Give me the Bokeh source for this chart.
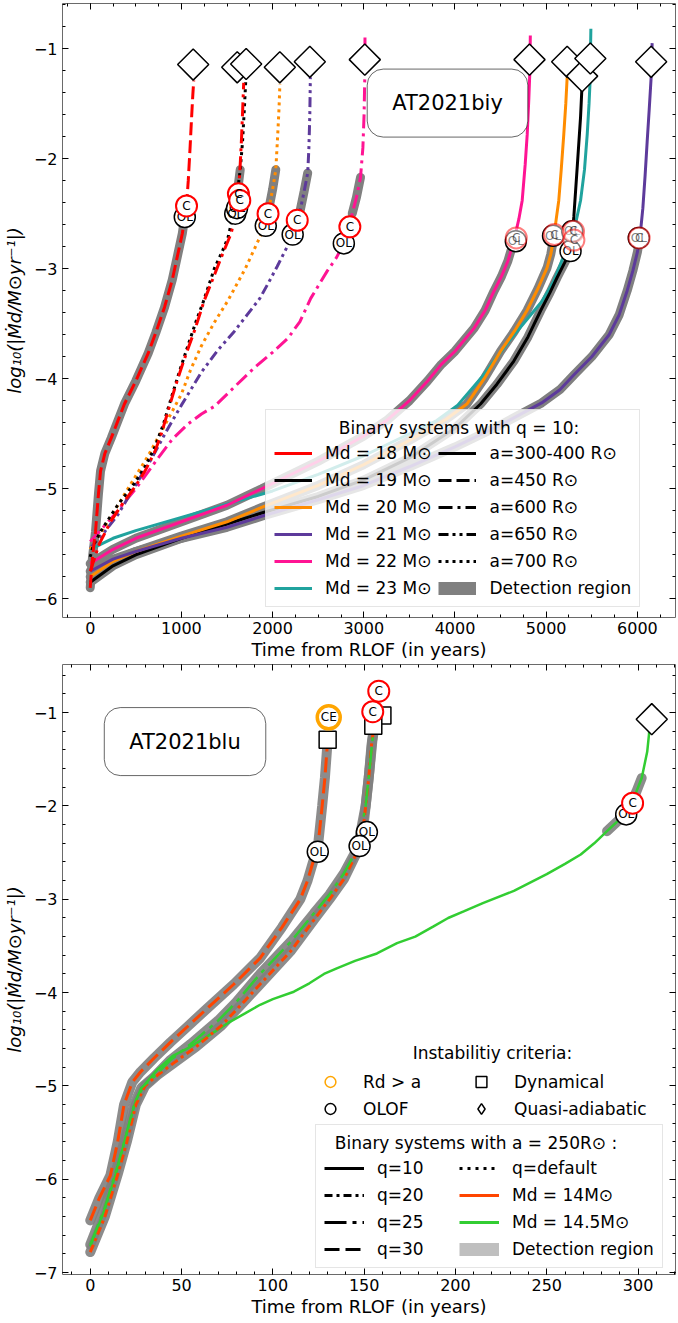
import numpy as np
from bokeh.plotting import figure
from bokeh.layouts import column
from bokeh.models import (Range1d, LinearAxis, SingleIntervalTicker, Legend, LegendItem,
                          Label, CustomJSTickFormatter)
from bokeh.core.properties import value
from bokeh.embed import file_html
from bokeh.resources import INLINE

FONT = "DejaVu Sans"

# ======================= TOP PANEL DATA (AT2021biy, q = 10) =======================
# time from RLOF (yr) and log10(|Mdot|)
t18_450 = [0, 25, 58, 90, 113, 160, 230, 300, 375, 500, 635, 720, 815, 900, 963, 1010, 1037, 1056, 1075, 1095, 1110, 1125, 1135]
y18_450 = [-5.9, -5.62, -5.39, -5.05, -4.84, -4.68, -4.54, -4.39, -4.23, -4.02, -3.77, -3.58, -3.35, -3.1, -2.86, -2.68, -2.53, -2.43, -2.2, -1.9, -1.65, -1.42, -1.29]

t18_600 = [0, 100, 230, 360, 485, 600, 705, 780, 855, 930, 1000, 1075, 1145, 1250, 1365, 1450, 1545, 1590, 1625, 1645, 1660, 1672, 1683]
y18_600 = [-5.75, -5.5, -5.29, -5.13, -4.99, -4.84, -4.67, -4.5, -4.29, -4.08, -3.9, -3.72, -3.56, -3.29, -3.05, -2.87, -2.68, -2.52, -2.32, -2.05, -1.8, -1.55, -1.31]

t19_700 = [0, 30, 120, 300, 485, 600, 705, 800, 890, 980, 1075, 1160, 1240, 1365, 1450, 1510, 1580, 1615, 1645, 1670, 1690, 1705]
y19_700 = [-5.62, -5.52, -5.38, -5.15, -4.95, -4.8, -4.63, -4.42, -4.17, -3.93, -3.69, -3.48, -3.3, -2.99, -2.84, -2.72, -2.47, -2.3, -2.1, -1.85, -1.55, -1.3]

t20_700 = [0, 230, 450, 635, 800, 1000, 1100, 1220, 1360, 1510, 1700, 1840, 1925, 1960, 2000, 2035, 2055, 2070, 2080]
y20_700 = [-5.55, -5.25, -4.95, -4.7, -4.45, -4.14, -3.92, -3.7, -3.49, -3.29, -3.0, -2.75, -2.6, -2.45, -2.28, -2.1, -1.8, -1.55, -1.32]

t21_650 = [0, 150, 300, 480, 670, 840, 1000, 1220, 1400, 1580, 1720, 1860, 1960, 2050, 2160, 2250, 2300, 2345, 2385, 2398, 2408, 2414]
y21_650 = [-5.54, -5.4, -5.24, -4.99, -4.73, -4.47, -4.24, -3.94, -3.74, -3.57, -3.42, -3.27, -3.12, -2.98, -2.8, -2.62, -2.48, -2.3, -2.13, -1.9, -1.6, -1.26]

t22_600 = [0, 250, 500, 745, 900, 1075, 1220, 1365, 1600, 1800, 2000, 2170, 2300, 2418, 2600, 2700, 2781, 2847, 2873, 2920, 2964, 2990, 3003, 3011, 3013]
y22_600 = [-5.48, -5.25, -5.0, -4.72, -4.55, -4.41, -4.32, -4.25, -4.06, -3.9, -3.76, -3.63, -3.48, -3.27, -3.02, -2.9, -2.77, -2.62, -2.5, -2.35, -2.17, -1.9, -1.6, -1.25, -0.9]

t22_s = [0, 250, 500, 1000, 1500, 1880, 2500, 3000, 3250, 3500, 3700, 3850, 4000, 4210, 4330, 4430, 4510, 4580, 4645,
         4700, 4737, 4770, 4792, 4810, 4820, 4826]
y22_s = [-5.68, -5.55, -5.45, -5.3, -5.15, -5.0, -4.75, -4.52, -4.38, -4.2, -4.02, -3.87, -3.75, -3.54, -3.38, -3.2, -3.07,
         -2.93, -2.75, -2.55, -2.38, -2.05, -1.78, -1.45, -1.23, -0.88]

t23_s = [0, 250, 500, 1000, 1500, 2000, 2500, 3000, 3500, 3800, 4030, 4300, 4590, 4800, 4950, 5080, 5170, 5230, 5267,
         5320, 5377, 5420, 5450, 5470, 5480, 5490]
y23_s = [-5.55, -5.45, -5.38, -5.26, -5.14, -5.02, -4.87, -4.7, -4.5, -4.38, -4.24, -3.98, -3.66, -3.45, -3.3, -3.12,
         -2.93, -2.82, -2.75, -2.6, -2.38, -2.1, -1.78, -1.5, -1.32, -0.82]

t19_s = [0, 250, 500, 1000, 1500, 1880, 2500, 3000, 3500, 4000, 4280, 4460, 4645, 4800, 4940, 5040, 5120, 5200, 5267,
         5303, 5340, 5377, 5395]
y19_s = [-5.85, -5.7, -5.6, -5.45, -5.32, -5.22, -5.07, -4.92, -4.72, -4.45, -4.23, -4.05, -3.84, -3.62, -3.38, -3.22,
         -3.08, -2.95, -2.84, -2.53, -2.08, -1.62, -1.3]

t20_s = [0, 250, 500, 1000, 1500, 1880, 2500, 3000, 3500, 3900, 4130, 4320, 4500, 4650, 4790, 4910, 5010, 5050, 5083,
         5110, 5138, 5165, 5193, 5215, 5230]
y20_s = [-5.8, -5.66, -5.57, -5.43, -5.3, -5.17, -4.97, -4.78, -4.56, -4.37, -4.23, -4.0, -3.75, -3.57, -3.38, -3.18,
         -2.99, -2.87, -2.72, -2.55, -2.38, -2.1, -1.78, -1.5, -1.26]

t21_s = [0, 250, 500, 1000, 1500, 1880, 2500, 3000, 3500, 4000, 4500, 4950, 5150, 5310, 5500, 5690, 5800, 5888, 5950,
         6000, 6030, 6060, 6085, 6107, 6130, 6151, 6162]
y21_s = [-5.75, -5.64, -5.57, -5.45, -5.35, -5.25, -5.1, -4.97, -4.8, -4.62, -4.42, -4.22, -4.1, -3.96, -3.8, -3.6,
         -3.42, -3.2, -3.02, -2.85, -2.7, -2.45, -2.15, -1.85, -1.55, -1.26, -0.95]

# instability markers (top)
ol_top_t = [1037, 1590, 1610, 1925, 2220, 2781, 4667, 5075, 5267, 5285, 6015]
ol_top_y = [-2.53, -2.5, -2.45, -2.61, -2.69, -2.77, -2.75, -2.7, -2.84, -2.66, -2.72]
c_top_t = [1056, 1625, 1640, 1950, 2270, 2847]
c_top_y = [-2.43, -2.32, -2.38, -2.5, -2.56, -2.62]
c_top_faint_t = [4672, 5090, 5300, 5304, 6020]
c_top_faint_y = [-2.72, -2.69, -2.66, -2.74, -2.72]
qa_top_t = [1129, 1612, 1710, 2079, 2408, 3011, 4817, 5230, 5394, 5484, 6151]
qa_top_y = [-1.145, -1.17, -1.14, -1.17, -1.12, -1.1, -1.1, -1.12, -1.25, -1.09, -1.12]

mass_labels_top = ["Md = 18 M\u2299", "Md = 19 M\u2299", "Md = 20 M\u2299",
                   "Md = 21 M\u2299", "Md = 22 M\u2299", "Md = 23 M\u2299"]
mass_colors_top = ["#ff0000", "#000000", "#ff8c00", "#5d3a9b", "#ff1493", "#20a39e"]
sep_labels_top = ["a=300-400 R\u2299", "a=450 R\u2299", "a=600 R\u2299", "a=650 R\u2299", "a=700 R\u2299"]

# ======================= BOTTOM PANEL DATA (AT2021blu, a = 250 Rsun) =======================
tb_14_q30 = [0, 5, 11, 15, 18.5, 23, 27.5, 35, 44, 54, 64, 78.6, 93, 105, 110, 115, 119, 122, 124.6, 127, 128.5, 130]
yb_14_q30 = [-6.44, -6.2, -5.96, -5.6, -5.2, -4.96, -4.85, -4.7, -4.53, -4.35, -4.17, -3.91, -3.63, -3.3, -3.15, -3.0, -2.8, -2.6, -2.45, -2.0, -1.7, -1.3]

tb_145_q25 = [0, 8, 15, 20, 24, 28, 35, 44, 55, 70, 80, 93, 110, 122.5, 131, 139, 146.4, 150.8, 153, 154.5, 156]
yb_145_q25 = [-6.7, -6.3, -5.85, -5.5, -5.2, -5.02, -4.9, -4.72, -4.55, -4.3, -4.1, -3.8, -3.45, -3.15, -2.95, -2.72, -2.45, -2.0, -1.6, -1.3, -1.1]

tb_14_q20 = [0, 8, 15, 20, 25, 30, 37, 46, 58, 72, 85, 93, 110, 122.5, 131, 139, 146, 150, 152.5, 154, 155]
yb_14_q20 = [-6.78, -6.4, -5.95, -5.6, -5.2, -5.0, -4.88, -4.75, -4.58, -4.35, -4.08, -3.91, -3.55, -3.22, -3.0, -2.78, -2.5, -2.15, -1.7, -1.35, -1.2]

tb_145_q10 = [0, 8, 15, 20, 25, 30, 37, 45, 53, 60, 68, 75, 85, 93, 100, 111.5, 120, 128, 135, 145, 157, 168, 178, 188, 196,
              204.5, 215, 232, 250, 260, 268.6, 276, 283, 289, 294, 299, 302, 305, 306, 306.5]
yb_145_q10 = [-6.72, -6.32, -5.88, -5.5, -5.15, -4.98, -4.82, -4.68, -4.6, -4.52, -4.42, -4.33, -4.22, -4.13, -4.07, -3.99, -3.9,
              -3.8, -3.74, -3.66, -3.58, -3.47, -3.4, -3.29, -3.2, -3.13, -3.04, -2.91, -2.73, -2.62, -2.52, -2.4, -2.27,
              -2.16, -2.05, -1.85, -1.7, -1.42, -1.23, -1.05]

ol_bot_t = [124.6, 151.5, 147.5, 293.5]
ol_bot_y = [-2.49, -2.28, -2.43, -2.09]
c_bot_t = [154.7, 158, 297]
c_bot_y = [-0.99, -0.77, -1.97]
ce_bot_t = [130.6]
ce_bot_y = [-1.05]
dyn_bot_t = [130, 160, 155]
dyn_bot_y = [-1.29, -1.03, -1.14]
qa_bot_t = [307.5]
qa_bot_y = [-1.07]

q_labels = ["q=10", "q=20", "q=25", "q=30", "q=default"]
mass_labels_bot = ["Md = 14M\u2299", "Md = 14.5M\u2299"]
mass_colors_bot = ["#ff4500", "#32cd32"]
crit_labels = ["Rd > a", "OLOF", "Dynamical", "Quasi-adiabatic"]

# ======================= STYLES =======================
DASH_SOLID = "solid"
DASH_A450 = "13 5"
DASH_A600 = "14 5 3 5"
DASH_A650 = "10 4 3 4 3 4"
DASH_A700 = "3 4"
DASH_Q20 = "8 4 3 4"
DASH_Q25 = "22 6 4 6"
DASH_Q30 = "15 6"
DASH_QDEF = "3 5"
GREY = "#808080"
YLABEL = "log\u2081\u2080(|\u1e40d/M\u2299yr\u207b\u00b9|)"
XLABEL = "Time from RLOF (in years)"
NOPT = [np.nan]  # legend-only renderers carry a single empty (NaN) point


def style(p, xint, xminor):
    xt = SingleIntervalTicker(interval=xint, num_minor_ticks=xminor)
    yt = SingleIntervalTicker(interval=1, num_minor_ticks=5)
    p.xaxis.ticker = xt
    p.yaxis.ticker = yt
    p.yaxis.formatter = CustomJSTickFormatter(
        code="return (tick < 0 ? '\\u2212' : '') + Math.abs(tick).toFixed(0);")
    p.grid.visible = False
    p.outline_line_color = "#6a6a6a"
    p.outline_line_width = 1
    for ax in [p.xaxis[0], p.yaxis[0]]:
        ax.axis_line_color = None
        ax.major_tick_in = 6
        ax.major_tick_out = 0
        ax.minor_tick_in = 3
        ax.minor_tick_out = 0
        ax.major_tick_line_color = "black"
        ax.minor_tick_line_color = "black"
        ax.major_label_text_font = FONT
        ax.major_label_text_font_size = "16px"
        ax.major_label_text_color = "black"
        ax.axis_label_text_font = FONT
        ax.axis_label_text_font_size = "18px"
        ax.axis_label_text_color = "black"
    p.xaxis[0].major_label_standoff = 4
    p.xaxis[0].axis_label_standoff = 2
    p.yaxis[0].major_label_standoff = 5
    p.yaxis[0].axis_label_standoff = 6
    p.xaxis[0].axis_label_text_font_style = "normal"
    p.yaxis[0].axis_label_text_font_style = "italic"
    p.xaxis[0].axis_label = XLABEL
    p.yaxis[0].axis_label = YLABEL
    for loc, tk in [("above", xt), ("right", yt)]:
        ax = LinearAxis(ticker=tk, major_label_text_font_size="0px", major_label_text_color=None,
                        major_label_standoff=0, axis_line_color=None, major_tick_in=6, major_tick_out=0,
                        minor_tick_in=3, minor_tick_out=0)
        p.add_layout(ax, loc)


BOX = dict(text_align="center", text_baseline="middle", text_font=FONT, text_font_size="21px",
           text_color="black", background_fill_color="white", border_line_color="black",
           border_line_alpha=0.6, padding=dict(left=25, right=25, top=22, bottom=22), border_radius=16)

# ======================= TOP FIGURE =======================
p1 = figure(width=678, height=662, x_range=Range1d(-304, 6418), y_range=Range1d(-6.17, -0.59),
            output_backend="svg", toolbar_location=None,
            min_border_left=62, min_border_right=3, min_border_top=3, min_border_bottom=45)
style(p1, 1000, 4)

# detection region bands
BW = 9
p1.line(t18_450[:17], y18_450[:17], line_color=GREY, line_width=BW, line_cap="round")
p1.line(t19_700[16:19], y19_700[16:19], line_color=GREY, line_width=BW, line_cap="round")
p1.line(t20_700[13:16], y20_700[13:16], line_color=GREY, line_width=BW, line_cap="round")
p1.line(t21_650[16:19], y21_650[16:19], line_color=GREY, line_width=BW, line_cap="round")
p1.line(t22_600[18:21], y22_600[18:21], line_color=GREY, line_width=BW, line_cap="round")
p1.line(t22_s[:19], y22_s[:19], line_color=GREY, line_width=BW, line_cap="round")
p1.line(t19_s[:19], y19_s[:19], line_color=GREY, line_width=BW, line_cap="round")
p1.line(t20_s[:19], y20_s[:19], line_color=GREY, line_width=BW, line_cap="round")
p1.line(t21_s[:21], y21_s[:21], line_color=GREY, line_width=BW, line_cap="round")

LW = 3
p1.line(t23_s, y23_s, line_color=mass_colors_top[5], line_width=LW)
p1.line(t19_s, y19_s, line_color=mass_colors_top[1], line_width=LW)
p1.line(t20_s, y20_s, line_color=mass_colors_top[2], line_width=LW)
p1.line(t21_s, y21_s, line_color=mass_colors_top[3], line_width=LW)
p1.line(t22_s, y22_s, line_color=mass_colors_top[4], line_width=LW)
p1.line(t22_600, y22_600, line_color=mass_colors_top[4], line_width=LW, line_dash=DASH_A600)
p1.line(t21_650, y21_650, line_color=mass_colors_top[3], line_width=LW, line_dash=DASH_A650)
p1.line(t20_700, y20_700, line_color=mass_colors_top[2], line_width=LW, line_dash=DASH_A700)
p1.line(t19_700, y19_700, line_color=mass_colors_top[1], line_width=LW, line_dash=DASH_A700)
p1.line(t18_600, y18_600, line_color=mass_colors_top[0], line_width=LW, line_dash=DASH_A600)
p1.line(t18_450, y18_450, line_color=mass_colors_top[0], line_width=LW, line_dash=DASH_A450)

MS = 21
TXT = dict(text_align="center", text_baseline="middle", text_font=value(FONT), text_font_size="12px")
p1.scatter(ol_top_t, ol_top_y, marker="circle", size=MS, fill_color="white", line_color="black", line_width=1.5)
p1.text(ol_top_t, ol_top_y, text=["OL"] * len(ol_top_t), text_color="black", **TXT)
p1.scatter(c_top_faint_t, c_top_faint_y, marker="circle", size=MS, fill_color="white", fill_alpha=0.5,
           line_color="red", line_alpha=0.5, line_width=2)
p1.text(c_top_faint_t, c_top_faint_y, text=["C"] * len(c_top_faint_t), text_color="black", text_alpha=0.6, **TXT)
p1.scatter(c_top_t, c_top_y, marker="circle", size=MS, fill_color="white", line_color="red", line_width=2)
p1.text(c_top_t, c_top_y, text=["C"] * len(c_top_t), text_color="black", **TXT)
p1.scatter(qa_top_t, qa_top_y, marker="square", angle=np.pi / 4, size=22, fill_color="white",
           line_color="black", line_width=1.5)

p1.add_layout(Label(x=3918, y=-1.495, text="AT2021biy", **BOX))

# legend (top)
items1 = []
for lab, col in zip(mass_labels_top, mass_colors_top):
    r = p1.line(NOPT, NOPT, line_color=col, line_width=LW)
    items1.append(LegendItem(label=lab, renderers=[r]))
for lab, dash in zip(sep_labels_top, [DASH_SOLID, DASH_A450, DASH_A600, DASH_A650, DASH_A700]):
    r = p1.line(NOPT, NOPT, line_color="black", line_width=LW, line_dash=dash)
    items1.append(LegendItem(label=lab, renderers=[r]))
r = p1.line(NOPT, NOPT, line_color=GREY, line_width=13)
items1.append(LegendItem(label="Detection region", renderers=[r]))
NB = "\u00a0"
LEGTXT = dict(title_text_font=FONT, title_text_font_size="17px", title_text_font_style="normal",
              title_text_color="black", label_text_font=FONT, label_text_font_size="17px",
              label_text_color="black", margin=0)
leg1 = Legend(items=items1, location=(203, 10), ncols=2,
              title=NB * 12 + "Binary systems with q = 10:",
              glyph_width=38, glyph_height=20, label_height=20, label_standoff=13,
              spacing=7, padding=8,
              border_line_color="#cccccc", background_fill_color="white", background_fill_alpha=0.8, **LEGTXT)
p1.add_layout(leg1)

# ======================= BOTTOM FIGURE =======================
p2 = figure(width=678, height=661, x_range=Range1d(-15.2, 320.5), y_range=Range1d(-7.02, -0.484),
            output_backend="svg", toolbar_location=None,
            min_border_left=62, min_border_right=3, min_border_top=2, min_border_bottom=49)
style(p2, 50, 5)

BW2 = 10
p2.line(tb_14_q30, yb_14_q30, line_color=GREY, line_width=BW2, line_alpha=0.9, line_cap="round")
p2.line(tb_145_q25, yb_145_q25, line_color=GREY, line_width=BW2, line_alpha=0.9, line_cap="round")
p2.line(tb_14_q20, yb_14_q20, line_color=GREY, line_width=BW2, line_alpha=0.9, line_cap="round")
p2.line(tb_145_q10[32:37], yb_145_q10[32:37], line_color=GREY, line_width=BW2, line_alpha=0.9, line_cap="round")

p2.line(tb_145_q10, yb_145_q10, line_color=mass_colors_bot[1], line_width=2.5)
p2.line(tb_14_q20, yb_14_q20, line_color=mass_colors_bot[0], line_width=3, line_dash=DASH_Q20)
p2.line(tb_145_q25, yb_145_q25, line_color=mass_colors_bot[1], line_width=2.5, line_dash=DASH_Q25)
p2.line(tb_14_q30, yb_14_q30, line_color=mass_colors_bot[0], line_width=3, line_dash=DASH_Q30)

p2.scatter(dyn_bot_t, dyn_bot_y, marker="square", size=17, fill_color="white", line_color="black", line_width=1.5)
p2.scatter(ce_bot_t, ce_bot_y, marker="circle", size=23, fill_color="white", line_color="orange", line_width=3.5)
p2.text(ce_bot_t, ce_bot_y, text=["CE"], text_color="black", **TXT)
p2.scatter(ol_bot_t, ol_bot_y, marker="circle", size=MS, fill_color="white", line_color="black", line_width=1.5)
p2.text(ol_bot_t, ol_bot_y, text=["OL"] * len(ol_bot_t), text_color="black", **TXT)
p2.scatter(c_bot_t, c_bot_y, marker="circle", size=MS, fill_color="white", line_color="red", line_width=2)
p2.text(c_bot_t, c_bot_y, text=["C"] * len(c_bot_t), text_color="black", **TXT)
p2.scatter(qa_bot_t, qa_bot_y, marker="square", angle=np.pi / 4, size=22, fill_color="white",
           line_color="black", line_width=1.5)

p2.add_layout(Label(x=51.9, y=-1.31, text="AT2021blu", **BOX))

# criteria legend
items_c = []
r = p2.scatter(NOPT, NOPT, marker="circle", size=9, fill_color=None, line_color="orange", line_width=1.5)
items_c.append(LegendItem(label=crit_labels[0], renderers=[r]))
r = p2.scatter(NOPT, NOPT, marker="circle", size=9, fill_color=None, line_color="black", line_width=1.5)
items_c.append(LegendItem(label=crit_labels[1], renderers=[r]))
r = p2.scatter(NOPT, NOPT, marker="square", size=9, fill_color=None, line_color="black", line_width=1.5)
items_c.append(LegendItem(label=crit_labels[2], renderers=[r]))
r = p2.scatter(NOPT, NOPT, marker="diamond", size=12, fill_color=None, line_color="black", line_width=1.5)
items_c.append(LegendItem(label=crit_labels[3], renderers=[r]))
leg_c = Legend(items=items_c, location=(248, 152), ncols=2,
               title=NB * 19 + "Instabilitiy criteria:",
               glyph_width=40, glyph_height=27, label_height=20, label_standoff=13, label_width=98,
               spacing=0, padding=8,
               border_line_color=None, background_fill_alpha=0, **LEGTXT)
p2.add_layout(leg_c)

items2 = []
for lab, dash in zip(q_labels, [DASH_SOLID, DASH_Q20, DASH_Q25, DASH_Q30, DASH_QDEF]):
    r = p2.line(NOPT, NOPT, line_color="black", line_width=3, line_dash=dash)
    items2.append(LegendItem(label=lab, renderers=[r]))
for lab, col in zip(mass_labels_bot, mass_colors_bot):
    r = p2.line(NOPT, NOPT, line_color=col, line_width=3)
    items2.append(LegendItem(label=lab, renderers=[r]))
r = p2.line(NOPT, NOPT, line_color=GREY, line_alpha=0.5, line_width=13)
items2.append(LegendItem(label="Detection region", renderers=[r]))
leg2 = Legend(items=items2, location=(253, 6), ncols=2,
              title=NB * 2 + "Binary systems with a = 250R\u2299 :",
              glyph_width=40, glyph_height=20, label_height=20, label_standoff=13, label_width=75,
              spacing=7, padding=8,
              border_line_color="#cccccc", background_fill_color="white", background_fill_alpha=0.8, **LEGTXT)
p2.add_layout(leg2)

layout = column(p1, p2, spacing=0)
open("out.html", "w").write(file_html(layout, INLINE, "AT2021biy / AT2021blu"))
